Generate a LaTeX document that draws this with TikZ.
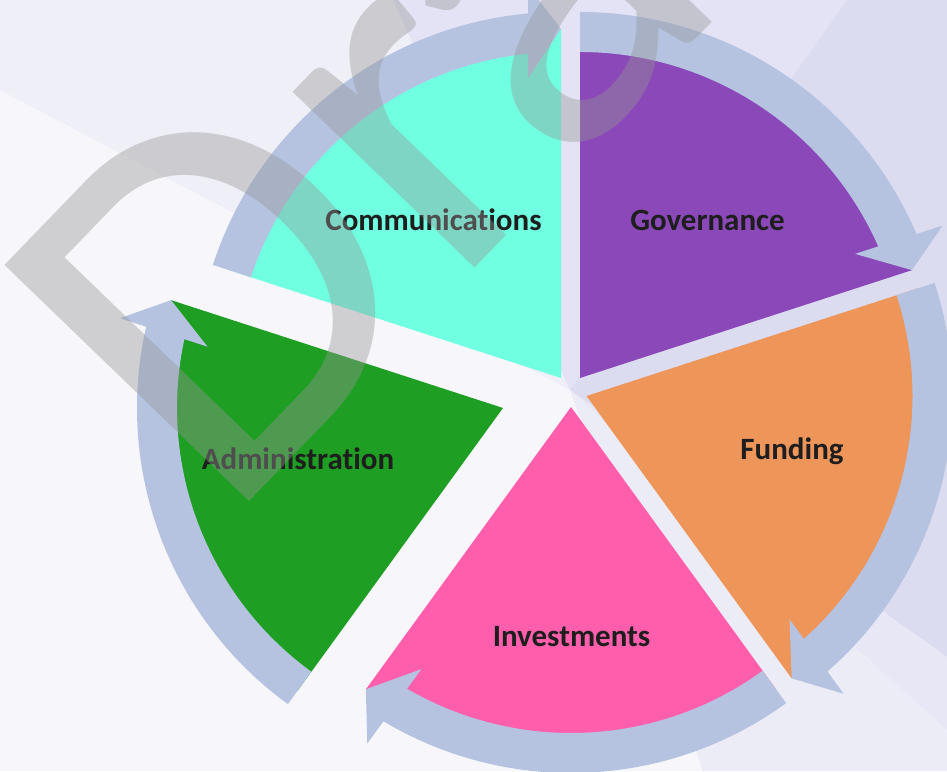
\documentclass[tikz,border=0pt]{standalone}
\usepackage{fontspec}
\setmainfont{Carlito}[Ligatures=NoCommon]
\definecolor{bgbase}{HTML}{F6F6FB}
\definecolor{bgtl}{HTML}{EFEFF8}
\definecolor{bgtop}{HTML}{E3E3F5}
\definecolor{bgright}{HTML}{DCDCF1}
\definecolor{bgrl}{HTML}{E7E7F5}
\definecolor{bgbr}{HTML}{ECECF6}
\definecolor{bandc}{HTML}{B5C3E1}
\definecolor{ccomm}{HTML}{70FFE1}
\definecolor{cgov}{HTML}{8A48B9}
\definecolor{cfund}{HTML}{EE955A}
\definecolor{cinv}{HTML}{FF5EAD}
\definecolor{cadm}{HTML}{1E9E22}
\definecolor{labc}{HTML}{1E1E1E}
\definecolor{wmc}{RGB}{150,150,150}
\tikzset{
  lbl/.style={text=labc, font=\fontsize{31}{31}\selectfont\bfseries, inner sep=0pt, anchor=base},
  wmark/.style={text=wmc, text opacity=0.4, font=\fontsize{530}{530}\selectfont, inner sep=0pt, anchor=base west},
  band/.style={fill=bandc}
}
\begin{document}
\begin{tikzpicture}[x=1pt,y=1pt]
\useasboundingbox (0,0) rectangle (947,771);
\clip (0,0) rectangle (947,771);
% background (screen coordinates)
\begin{scope}[yshift=771pt, yscale=-1]
  \fill[bgbase] (0,0) rectangle (947,771);
  \fill[bgtl] (570,390) -- (0,90) -- (0,0) -- (393,0) -- cycle;
  \fill[bgtop] (570,390) -- (393,0) -- (847,0) -- cycle;
  \fill[bgright] (570,390) -- (847,0) -- (947,0) -- (947,657) -- cycle;
  \fill[bgrl] (570,390) -- (947,657) -- (947,730) -- cycle;
  \fill[bgbr] (570,390) -- (947,730) -- (947,771) -- (703,771) -- cycle;
\end{scope}
% wedges and arrows: apex x / apex y / tail angle / tip angle / colour
\foreach \px/\py/\aa/\ab/\col in {580/393/90/18/cgov, 561/393/162/90/ccomm, 503/363/234/162/cadm, 571/364/306/234/cinv, 586.5/375/378/306/cfund}{
  \begin{scope}[shift={(\px,\py)}]
    \fill[\col] (0,0) -- (\ab:349) arc[start angle=\ab, end angle=\aa, radius=349] -- cycle;
    \fill[band] (\aa:326) arc[start angle=\aa, end angle=\ab+5.81, radius=326]
      -- (\ab+6.28:301.8) -- (\ab:349) -- (\ab+4.81:393.4)
      -- (\ab+5.17:366) arc[start angle=\ab+5.17, end angle=\aa, radius=366] -- cycle;
  \end{scope}
}
% labels
\node[lbl] (comm) at (433.5,540) {Communications};
\node[lbl] (gov) at (707.5,540) {Governance};
\node[lbl] (fund) at (792,311) {Funding};
\node[lbl] (inv) at (571.5,124.3) {Investments};
\node[lbl] (adm) at (298,301) {Administration};
% watermark
\node[wmark, rotate=46] (draft) at (224.5,243.5) {Dr\kern-30pt aft};
\end{tikzpicture}
\end{document}
